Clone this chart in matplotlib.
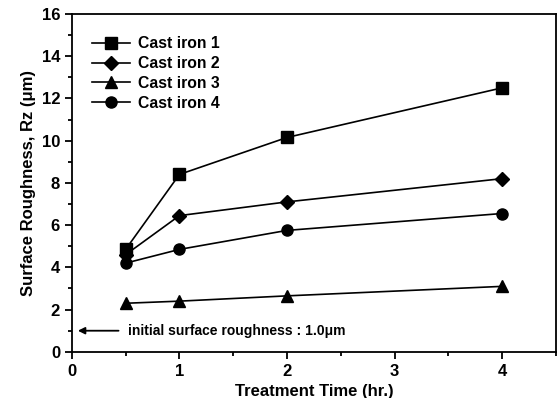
import matplotlib.pyplot as plt
from matplotlib.ticker import MultipleLocator

plt.rcParams['font.family'] = ['Liberation Sans', 'DejaVu Sans']
plt.rcParams['font.weight'] = 'bold'

time = [0.5, 1, 2, 4]
iron1 = [4.85, 8.4, 10.15, 12.5]
iron2 = [4.6, 6.45, 7.1, 8.2]
iron3 = [2.3, 2.4, 2.65, 3.1]
iron4 = [4.2, 4.85, 5.75, 6.55]
labels = ['Cast iron 1', 'Cast iron 2', 'Cast iron 3', 'Cast iron 4']
markers = ['s', 'D', '^', 'o']
sizes = [8, 7, 8, 8]

fig = plt.figure(figsize=(5.57, 3.98), dpi=100)
ax = fig.add_axes([0.129, 0.116, 0.869, 0.849])

for y, lab, m, s in zip([iron1, iron2, iron3, iron4], labels, markers, sizes):
    ax.plot(time, y, color='black', lw=1.2, marker=m, ms=s, label=lab)

ax.annotate('', xy=(0.03, 1.0), xytext=(0.46, 1.0),
            arrowprops=dict(arrowstyle='-|>', color='black', lw=1.3, mutation_scale=10))
ax.text(0.52, 1.0, 'initial surface roughness : 1.0μm', va='center', fontsize=10, fontweight='bold')

ax.set_xlim(0, 4.5)
ax.set_ylim(0, 16)
ax.set_xticks([0, 1, 2, 3, 4])
ax.set_yticks(range(0, 17, 2))
ax.xaxis.set_minor_locator(MultipleLocator(0.5))
ax.yaxis.set_minor_locator(MultipleLocator(1))
ax.tick_params(which='both', direction='out', top=False, right=False, labelsize=12, width=1.3)
ax.tick_params(which='major', length=5)
ax.tick_params(which='minor', length=3)
for sp in ax.spines.values():
    sp.set_linewidth(1.3)

ax.set_xlabel('Treatment Time (hr.)', fontsize=12, fontweight='bold')
ax.set_ylabel('Surface Roughness, Rz (μm)', fontsize=12, fontweight='bold')

ax.legend(loc='upper left', frameon=False, fontsize=11.3, handlelength=2.4,
          handletextpad=0.5, borderaxespad=0.6, labelspacing=0.3,
          bbox_to_anchor=(0.01, 0.98))

fig.savefig('out.png', dpi=100)
